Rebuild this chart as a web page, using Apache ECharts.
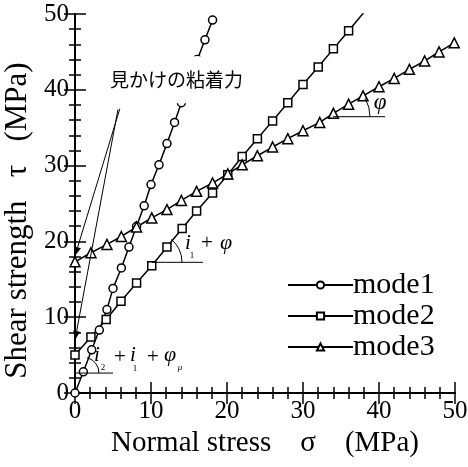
<!DOCTYPE html>
<html>
<head>
<meta charset="utf-8">
<script src="https://cdn.jsdelivr.net/npm/echarts@6/dist/echarts.min.js"></script>
<style>
html, body { margin: 0; padding: 0; background: #fff; }
#chart { width: 468px; height: 467px; }
</style>
</head>
<body>
<div id="chart"></div>
<script>
// values (MPa)
const mode1X = [0, 1.1, 2.2, 3.2, 4.2, 5.0, 6.1, 7.1, 8.1, 9.1, 10.0, 11.05, 12.1, 13.1, 14.0, 15.0, 16.1, 17.1, 18.1];
const mode1Y = [0, 2.8, 5.7, 8.3, 11.0, 13.8, 16.5, 19.25, 22.0, 24.7, 27.5, 30.1, 32.9, 35.7, 38.3, 41.0, 44.0, 46.6, 49.2];

const mode2X = [0, 2.1, 4.1, 6.05, 8.1, 10.1, 12.1, 14.1, 16, 18.1, 20.1, 22, 24, 26, 28, 30, 32, 34, 36, 38];
const mode2Y = [5.0, 7.4, 9.7, 12.1, 14.5, 16.8, 19.25, 21.7, 24.0, 26.4, 28.8, 31.2, 33.55, 35.9, 38.3, 40.7, 43.0, 45.4, 47.8, 50.2];

const mode3X = [0, 2.1, 4.2, 6.1, 8.1, 10.1, 12.1, 14, 16, 18.1, 20.1, 22, 24, 26, 28, 30, 32.2, 34, 36, 37.9, 40, 42, 44, 46, 47.9, 49.9];
const mode3Y = [17.3, 18.5, 19.6, 20.65, 21.9, 23.1, 24.2, 25.4, 26.6, 27.7, 28.9, 30.1, 31.3, 32.45, 33.55, 34.6, 35.7, 36.9, 38.1, 39.2, 40.4, 41.5, 42.7, 43.8, 45.0, 46.2];

const xTicks = [0, 10, 20, 30, 40, 50];
const yTicks = [0, 10, 20, 30, 40, 50];

const serif = '"Liberation Serif", "Times New Roman", serif';

function pairs(xs, ys) {
    return xs.map((x, i) => [x, ys[i]]);
}

function axisBase(extra) {
    return Object.assign({
        type: 'value',
        min: 0,
        max: 50,
        interval: 10,
        splitLine: { show: false },
        axisLine: { show: true, lineStyle: { color: '#000', width: 2 } },
        axisTick: { inside: true, length: 11, lineStyle: { color: '#000', width: 1.5 } },
        minorTick: { show: true, splitNumber: 5, length: 6, lineStyle: { color: '#000', width: 1.5 } },
        axisLabel: { show: false }
    }, extra);
}

function lineSeries(name, data, symbol, size) {
    return {
        name: name,
        type: 'line',
        data: data,
        symbol: symbol,
        symbolSize: size,
        showAllSymbol: true,
        clip: true,
        lineStyle: { color: '#000', width: 1.5 },
        itemStyle: { color: '#fff', borderColor: '#000', borderWidth: 1.5 },
        emphasis: { disabled: true },
        z: 3
    };
}

const chart = echarts.init(document.getElementById('chart'), null, { renderer: 'canvas' });

const option = {
    animation: false,
    backgroundColor: '#fff',
    grid: { left: 75, right: 13, top: 14, bottom: 74, containLabel: false, outerBoundsMode: 'none' },
    legend: {
        orient: 'vertical',
        left: 282,
        top: 265,
        itemWidth: 65,
        itemHeight: 9,
        itemGap: 1,
        textStyle: { fontFamily: serif, fontSize: 30, color: '#000', padding: [0, 0, 0, -5] },
        data: ['mode1', 'mode2', 'mode3']
    },
    xAxis: [
        axisBase({
            position: 'bottom',
            name: 'Normal stress\u3000σ\u3000(MPa)',
            nameLocation: 'middle',
            nameGap: 36,
            nameTextStyle: { fontFamily: serif, fontSize: 29, color: '#000' },
            axisLabel: {
                show: true,
                margin: 6,
                fontFamily: serif,
                fontSize: 25,
                color: '#000',
                formatter: v => xTicks.includes(v) ? String(v) : ''
            }
        }),
        axisBase({ position: 'top' })
    ],
    yAxis: [
        axisBase({
            position: 'left',
            name: 'Shear strength   τ   (MPa)',
            nameLocation: 'middle',
            nameGap: 37,
            nameTextStyle: { fontFamily: serif, fontSize: 31, color: '#000', padding: [0, 34, 0, 0] },
            axisLabel: {
                show: true,
                margin: 6,
                fontFamily: serif,
                fontSize: 25,
                color: '#000',
                formatter: v => yTicks.includes(v) ? String(v) : ''
            }
        }),
        axisBase({ position: 'right' })
    ],
    series: [
        lineSeries('mode1', pairs(mode1X, mode1Y), 'circle', 8),
        lineSeries('mode2', pairs(mode2X, mode2Y), 'rect', 8),
        lineSeries('mode3', pairs(mode3X, mode3Y), 'triangle', 10)
    ]
};

chart.setOption(option);

// annotations, anchored in data space
function px(x, y) {
    return chart.convertToPixel({ gridIndex: 0 }, [x, y]);
}

function hLine(x0, x1, y) {
    const a = px(x0, y), b = px(x1, y);
    return { type: 'line', z: 50, shape: { x1: a[0], y1: a[1], x2: b[0], y2: b[1] }, style: { stroke: '#000', lineWidth: 1 } };
}

function angleArc(x, y, r, deg) {
    const c = px(x, y);
    return {
        type: 'arc', z: 50,
        shape: { cx: c[0], cy: c[1], r: r, startAngle: -deg * Math.PI / 180, endAngle: 0, clockwise: true },
        style: { stroke: '#000', fill: null, lineWidth: 1 }
    };
}

function txt(anchor, dx, dy, s, size, italic) {
    return {
        type: 'text', z: 60,
        x: anchor[0] + dx, y: anchor[1] + dy,
        style: {
            text: s,
            font: (italic ? 'italic ' : '') + size + 'px ' + serif,
            fill: '#000',
            align: 'center',
            verticalAlign: 'middle'
        }
    };
}

function arrow(from, to) {
    const a = px(from[0], from[1]), b = px(to[0], to[1]);
    const ang = Math.atan2(b[1] - a[1], b[0] - a[0]);
    const len = 9, half = 3.5;
    const bx = b[0] - len * Math.cos(ang), by = b[1] - len * Math.sin(ang);
    const nx = -Math.sin(ang) * half, ny = Math.cos(ang) * half;
    return [
        { type: 'line', z: 50, shape: { x1: a[0], y1: a[1], x2: bx, y2: by }, style: { stroke: '#000', lineWidth: 1 } },
        { type: 'polygon', z: 50, shape: { points: [[b[0], b[1]], [bx + nx, by + ny], [bx - nx, by - ny]] }, style: { fill: '#000' } }
    ];
}

const phiAnchor = px(33.95, 36.45);
const i1Anchor = px(10.13, 17.24);
const i2Anchor = px(1.05, 2.63);
const labelTL = px(4.2, 44.3);

const graphics = [
    // white box behind the Japanese label
    { type: 'rect', z: 40, shape: { x: labelTL[0] - 1, y: labelTL[1] - 1, width: 142, height: 47 }, style: { fill: '#fff' } },
    { type: 'text', z: 60, x: labelTL[0] + 3, y: labelTL[1] + 23,
      style: { text: '見かけの粘着力', font: '19px "Noto Sans CJK JP"', fill: '#000', verticalAlign: 'middle' } },
    ...arrow([5.9, 37.5], [0, 18.1]),
    ...arrow([5.65, 37.4], [0, 7.0]),

    hLine(33.95, 40.8, 36.45),
    angleArc(33.95, 36.45, 37, 30),
    txt(phiAnchor, 47, -14, 'φ', 23, true),

    hLine(10.13, 16.84, 17.24),
    angleArc(10.13, 17.24, 30, 50),
    txt(i1Anchor, 36, -19, 'i', 21, true),
    txt(i1Anchor, 40, -7, '1', 9, false),
    txt(i1Anchor, 55, -19, '+', 21, false),
    txt(i1Anchor, 74, -19, 'φ', 22, true),

    hLine(0, 5.0, 2.63),
    angleArc(1.05, 2.63, 16, 75),
    txt(i2Anchor, 14, -18, 'i', 21, true),
    txt(i2Anchor, 20, -5, '2', 9, false),
    txt(i2Anchor, 37, -16, '+', 21, false),
    txt(i2Anchor, 50, -18, 'i', 21, true),
    txt(i2Anchor, 52, -4, '1', 9, false),
    txt(i2Anchor, 70, -16, '+', 21, false),
    txt(i2Anchor, 87, -18, 'φ', 22, true),
    txt(i2Anchor, 97, -5, 'μ', 9, true)
];

chart.setOption({ graphic: graphics });
</script>
</body>
</html>
